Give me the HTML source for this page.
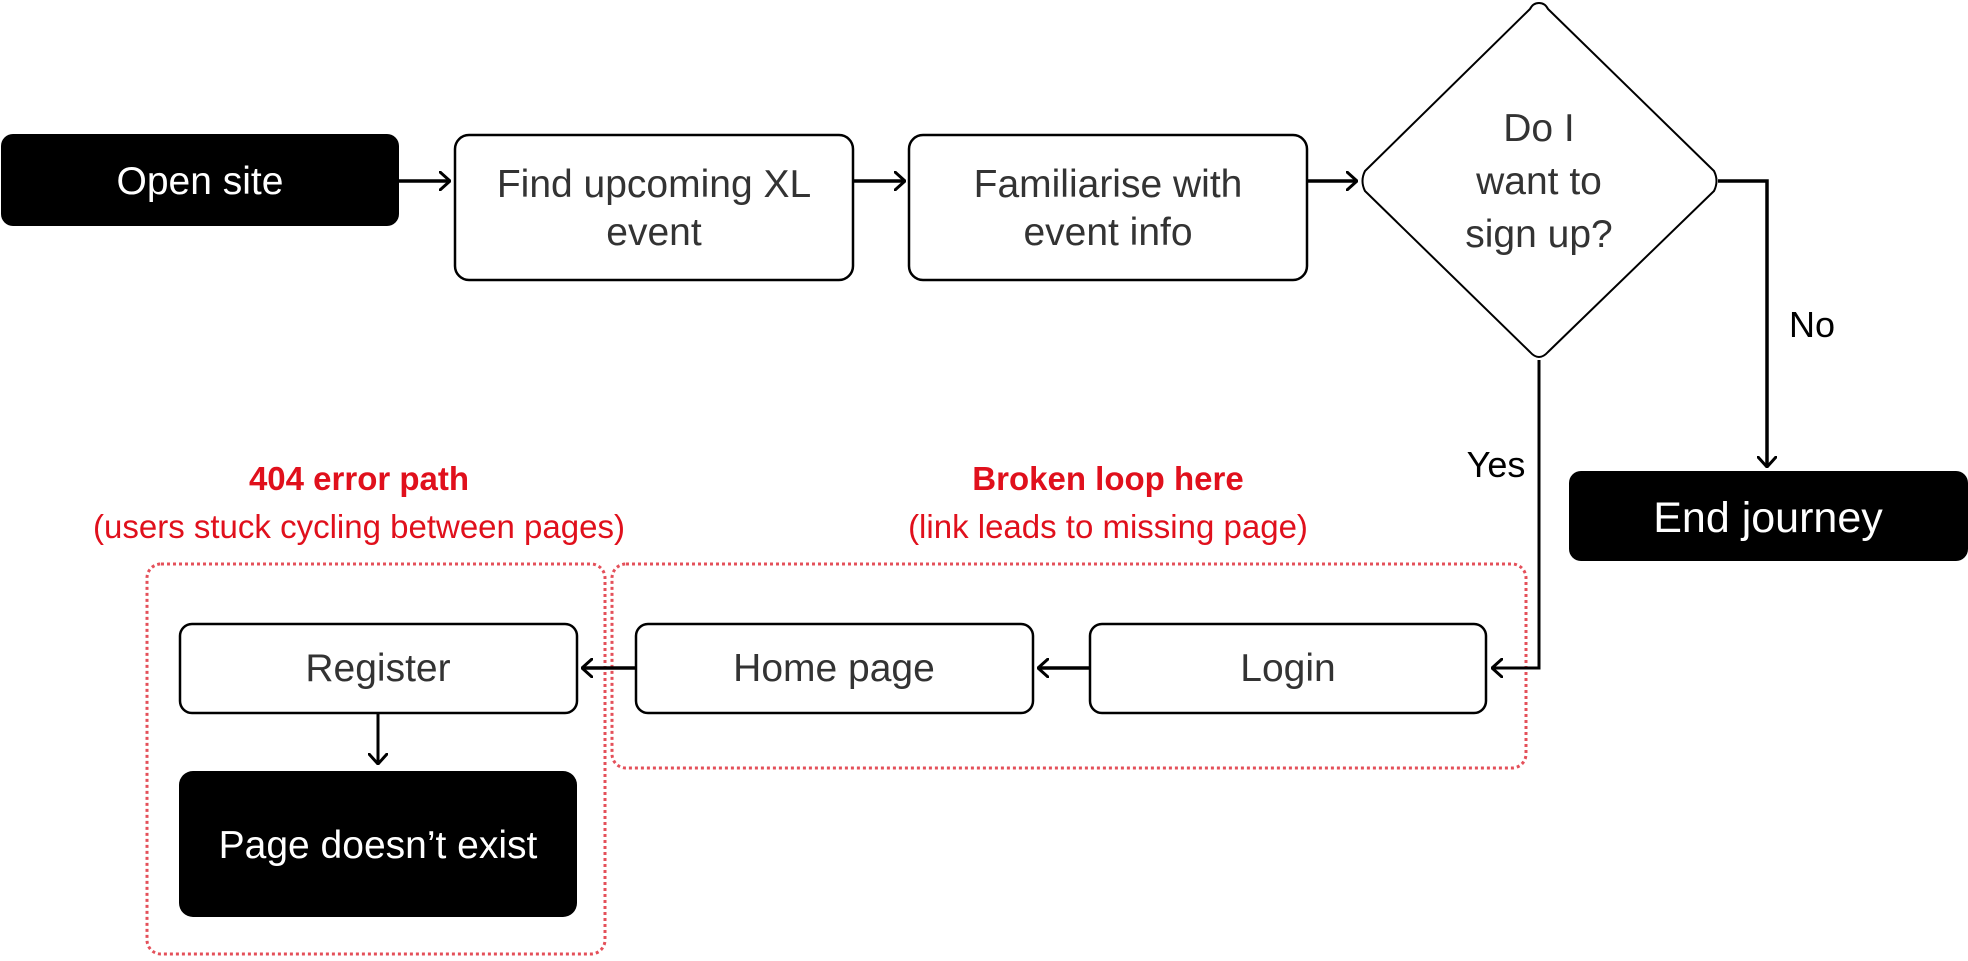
<!DOCTYPE html>
<html><head><meta charset="utf-8"><style>
body{margin:0;background:#fff}
svg text{font-family:"Liberation Sans",sans-serif}
</style></head><body>
<svg width="1968" height="956" viewBox="0 0 1968 956" xmlns="http://www.w3.org/2000/svg">
<defs><marker id="a" viewBox="0 0 12 20" refX="11" refY="10" markerWidth="12" markerHeight="20" markerUnits="userSpaceOnUse" orient="auto"><path d="M1 1 L11 10 L1 19" fill="none" stroke="#000" stroke-width="3" stroke-linecap="round" stroke-linejoin="round"/></marker></defs>
<g fill="none" stroke="#e4505a" stroke-width="3" stroke-dasharray="3 3">
<rect x="147" y="564" width="458" height="390" rx="14"/>
<rect x="612" y="564" width="914" height="204" rx="14"/>
</g>
<rect x="1" y="134" width="398" height="92" rx="12" fill="#000"/>
<g fill="#fff" stroke="#000" stroke-width="2.5">
<rect x="455" y="135" width="398" height="145" rx="14"/>
<rect x="909" y="135" width="398" height="145" rx="14"/>
<path d="M1539 3 Q1545 3 1548 9 L1714 171 Q1719 181 1714 191 L1548 352 Q1539 362 1530 352 L1365 191 Q1360 181 1365 171 L1530 9 Q1533 3 1539 3Z" stroke-width="2"/>
<rect x="1090" y="624" width="396" height="89" rx="12"/>
<rect x="636" y="624" width="397" height="89" rx="12"/>
<rect x="180" y="624" width="397" height="89" rx="12"/>
</g>
<rect x="1569" y="471" width="399" height="90" rx="12" fill="#000"/>
<rect x="179" y="771" width="398" height="146" rx="14" fill="#000"/>
<g fill="none" stroke="#000" stroke-width="3.5" marker-end="url(#a)">
<path d="M399 181 H450"/>
<path d="M853 181 H905"/>
<path d="M1307 181 H1357"/>
<path d="M1718 181 H1767 V467"/>
<path d="M1539 360 V668 H1492" stroke-width="3"/>
<path d="M1089 668 H1038"/>
<path d="M635 668 H582"/>
<path d="M378 713 V764" stroke-width="3"/>
</g>
<g font-size="39" text-anchor="middle" fill="#333">
<text x="200" y="194" fill="#fff" font-size="39">Open site</text>
<text x="654" y="197">Find upcoming XL</text>
<text x="654" y="245">event</text>
<text x="1108" y="197">Familiarise with</text>
<text x="1108" y="245">event info</text>
<text x="1539" y="141">Do I</text>
<text x="1539" y="194">want to</text>
<text x="1539" y="247">sign up?</text>
<text x="1288" y="681">Login</text>
<text x="834" y="681">Home page</text>
<text x="378" y="681">Register</text>
<text x="378" y="858" fill="#fff">Page doesn’t exist</text>
<text x="1768" y="532" fill="#fff" font-size="43">End journey</text>
<text x="1812" y="337" fill="#000" font-size="36">No</text>
<text x="1496" y="477" fill="#000" font-size="36">Yes</text>
</g>
<g font-size="33" text-anchor="middle" fill="#e0101c">
<text x="359" y="490" font-weight="bold">404 error path</text>
<text x="359" y="538">(users stuck cycling between pages)</text>
<text x="1108" y="490" font-weight="bold">Broken loop here</text>
<text x="1108" y="538">(link leads to missing page)</text>
</g>
</svg>
</body></html>
